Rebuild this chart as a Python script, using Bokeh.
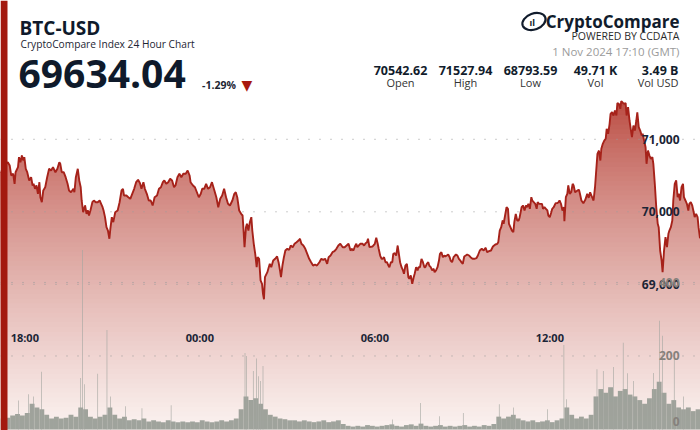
import numpy as np
from bokeh.plotting import figure
from bokeh.models import Range1d, Label, BoxAnnotation
from bokeh.core.properties import value
from bokeh.embed import file_html
from bokeh.resources import INLINE

# ---------------- data ----------------
# minutes after 31 Oct 2024 17:10 (GMT)
minutes = [
    0, 6, 11, 15, 19, 22, 26, 29, 31, 36, 38, 41, 44, 47, 49, 52, 55, 59, 63, 66, 68, 71, 74, 77, 80,
    82, 85, 88, 92, 96, 100, 104, 108, 113, 117, 121, 123, 126, 130, 134, 138, 141, 145, 150, 152,
    155, 159, 162, 165, 167, 170, 174, 177, 180, 182, 185, 189, 192, 196, 200, 204, 207, 210, 212,
    215, 218, 221, 224, 226, 229, 232, 236,
    241, 245, 249, 252, 254, 259, 263, 267, 271, 275, 279, 283, 287, 290, 294, 297, 301, 305, 309,
    313, 317, 322, 326, 330, 334, 337, 341, 345, 349, 353, 357, 360, 364, 368, 372, 376, 381, 385,
    389, 391, 396, 400, 404, 408, 412, 415, 419, 423, 427, 431, 435, 440, 444, 448, 452, 456, 460,
    464, 468, 472,
    477, 481, 484, 487, 491, 495, 498, 500, 502, 505, 507, 510, 513, 516, 518, 521, 524, 527, 529,
    532, 535, 538, 540, 542, 544, 549, 551, 554, 557, 561, 565, 569, 572, 575, 577, 580, 583, 586,
    590, 594, 597, 601, 605, 609, 613, 616, 619, 623, 627, 631, 635, 639, 643, 647, 651, 656, 660,
    664, 668, 672, 675, 679, 683, 687, 691, 695, 699, 704, 708, 712, 716, 720,
    723, 726, 729, 732, 734, 740, 745, 748, 751, 754, 756, 759, 765, 770, 773, 776, 778, 781, 784,
    786, 789, 792, 795, 798, 800, 803, 806, 808, 811, 814, 817, 819, 822, 825, 828, 830, 833, 836,
    839, 841, 844, 847, 850, 852, 855, 858, 860, 863, 866, 869, 872, 874, 877, 880, 882, 885, 888,
    891, 893, 896, 899, 902, 904, 907, 910, 913, 915, 918, 921, 924, 926, 929, 932, 935, 937, 940,
    943, 946, 948, 951, 954, 957,
    960, 964, 967, 971, 975, 979, 982, 986, 990, 994, 998, 1001, 1005, 1009, 1013, 1018, 1022, 1024,
    1027, 1030, 1033, 1035, 1038, 1041, 1044, 1046, 1049, 1052, 1055, 1057, 1060, 1063, 1066, 1068,
    1072, 1075, 1078, 1081, 1083, 1086, 1089, 1092, 1094, 1097, 1100, 1103, 1105, 1108, 1114, 1116,
    1119, 1122, 1125, 1127, 1130, 1133, 1135, 1138, 1142, 1145, 1148, 1150, 1153, 1156, 1159, 1160,
    1163, 1166, 1168, 1171, 1174, 1177, 1179, 1182,
    1187, 1190, 1192, 1195, 1199, 1203, 1207, 1210, 1213, 1217, 1220, 1223, 1225, 1228, 1231, 1234,
    1236, 1239, 1242, 1245, 1247, 1250, 1253, 1255, 1258, 1261, 1264, 1267, 1269, 1272, 1275, 1277,
    1280, 1283, 1286, 1288, 1291, 1294, 1297, 1299, 1302, 1305, 1308, 1310, 1313, 1316, 1319, 1321,
    1324, 1327, 1329, 1332, 1335, 1338, 1341, 1343, 1346, 1349, 1352, 1354, 1357, 1360, 1362, 1365,
    1368, 1371, 1374, 1376, 1379, 1382, 1384, 1387, 1390, 1393, 1395, 1398, 1401, 1404, 1406, 1409,
    1412, 1415, 1417, 1420, 1423, 1426, 1428, 1431, 1434, 1436, 1439,
]
price = [
    70543, 70610, 70660, 70684, 70638, 70501, 70524, 70386, 70546, 70615, 70753, 70684, 70776, 70707,
    70753, 70593, 70546, 70432, 70477, 70363, 70386, 70317, 70363, 70248, 70408, 70201, 70132, 70294,
    70339, 70477, 70593, 70570, 70615, 70546, 70593, 70684, 70662, 70546, 70546, 70477, 70386, 70294,
    70270, 70317, 70270, 70477, 70593, 70432, 70339, 70156, 69994, 70087, 69972, 70018, 69949, 70018,
    70132, 70156, 70132, 70132, 70156, 70110, 70063, 70018, 69926, 69788, 69742, 69628, 69766, 69926,
    69857, 69994,
    70018, 70132, 70294, 70317, 70225, 70225, 70201, 70179, 70248, 70317, 70408, 70441, 70394, 70317,
    70408, 70317, 70248, 70156, 70156, 70087, 70201, 70225, 70317, 70339, 70408, 70432, 70386, 70408,
    70455, 70432, 70339, 70363, 70477, 70524, 70477, 70524, 70524, 70570, 70501, 70408, 70363, 70339,
    70270, 70201, 70248, 70317, 70317, 70386, 70317, 70339, 70408, 70294, 70201, 70063, 70179, 70225,
    70317, 70201, 70110, 70087,
    70156, 70248, 70270, 70201, 70018, 69972, 69949, 69742, 69512, 69788, 69835, 69742, 69857, 69926,
    69742, 69559, 69421, 69236, 69374, 69352, 69053, 69007, 68869, 68794, 69098, 69167, 69214, 69283,
    69236, 69328, 69352, 69384, 69305, 69191, 69098, 69259, 69374, 69466, 69490, 69476, 69535, 69512,
    69559, 69581, 69604, 69628, 69559, 69535, 69490, 69421, 69352, 69305, 69259, 69273, 69259, 69305,
    69352, 69338, 69352, 69283, 69374, 69397, 69443, 69457, 69490, 69535, 69559, 69512, 69512, 69535,
    69559, 69466,
    69490, 69466, 69521, 69559, 69512, 69559, 69559, 69535, 69567, 69581, 69628, 69512, 69521, 69559,
    69641, 69559, 69490, 69397, 69352, 69352, 69374, 69305, 69305, 69259, 69236, 69305, 69305, 69421,
    69429, 69397, 69535, 69443, 69305, 69236, 69191, 69145, 69259, 69283, 69098, 69076, 69122, 69007,
    69098, 69145, 69236, 69191, 69236, 69236, 69352, 69305, 69236, 69236, 69283, 69305, 69259, 69236,
    69191, 69214, 69167, 69191, 69236, 69328, 69421, 69443, 69374, 69397, 69384, 69397, 69411, 69374,
    69328, 69305, 69374, 69397, 69411, 69397, 69352, 69328, 69305, 69283, 69384, 69397,
    69411, 69397, 69374, 69352, 69352, 69360, 69397, 69466, 69490, 69466, 69504, 69443, 69457, 69466,
    69521, 69549, 69559, 69581, 69742, 69788, 69880, 69835, 69949, 70063, 70041, 69835, 69788, 69742,
    69719, 69857, 69972, 69880, 69880, 69926, 70063, 70087, 70018, 70087, 70063, 70110, 70041, 70201,
    70156, 70132, 70110, 70041, 70132, 70110, 70110, 70041, 70063, 70041, 70018, 69949, 69926, 69994,
    70041, 70063, 70119, 70119, 70132, 70156, 70110, 70018, 70063, 69870, 70201, 70248, 70363, 70248,
    70270, 70386, 70363, 70270,
    70294, 70303, 70248, 70156, 70119, 70165, 70248, 70193, 70270, 70201, 70156, 70339, 70524, 70800,
    70845, 70707, 70869, 70938, 70983, 71007, 71145, 71076, 71214, 71351, 71373, 71328, 71397, 71328,
    71500, 71489, 71420, 71528, 71505, 71489, 71500, 71328, 71443, 71259, 71121, 71029, 71190, 71121,
    71259, 71373, 71167, 71121, 71052, 71076, 70983, 70891, 70662, 70845, 70776, 70731, 70753, 70662,
    70386, 70063, 69835, 69788, 69466, 69328, 69167, 69466, 69650, 69512, 69697, 69742, 69788, 69880,
    70156, 70386, 70432, 70201, 70248, 70156, 70339, 70386, 70201, 70156, 70110, 70018, 70110, 70132,
    70087, 69994, 69926, 69972, 69926, 69788, 69634,
]
# volume per 10-minute block (BTC)
vol_10min = [
    30, 32, 38, 42, 38, 45, 70, 60, 55, 40,
    30, 35, 30, 32, 40, 35, 60, 55, 35, 30,
    35, 40, 60, 40, 30, 35, 25, 28, 25, 30,
    22, 25, 22, 20, 25, 22, 20, 22, 20, 22,
    20, 25, 22, 20, 22, 25, 22, 25, 30, 55,
    90, 80, 85, 70, 55, 40, 35, 30, 28, 25,
    25, 22, 25, 22, 20, 22, 25, 20, 22, 25,
    15, 10, 8, 10, 8, 12, 10, 8, 10, 12,
    14, 10, 8, 12, 14, 10, 16, 10, 8, 10,
    12, 8, 10, 8, 10, 12, 8, 10, 8, 12,
    10, 15, 35, 30, 35, 40, 30, 25, 22, 25,
    20, 22, 25, 20, 25, 30, 60, 40, 30, 35,
    30, 40, 90, 110, 100, 115, 90, 105, 110, 95,
    90, 80, 70, 85, 110, 130, 100, 70, 80, 60,
    55, 60, 50, 55,
]
# single-minute volume spikes
spike_min = [37, 58, 68, 84, 165, 169, 173, 200, 219, 226, 257, 291, 351, 503, 506, 520, 527, 531,
             535, 540, 806, 864, 903, 952, 1026, 1055, 1125, 1159, 1164, 1227, 1240, 1261, 1281,
             1290, 1302, 1343, 1356, 1362, 1386, 1405]
spike_vol = [79, 96, 90, 157, 140, 488, 123, 152, 271, 90, 63, 58, 66, 208, 200, 159, 193, 145,
             132, 173, 27, 72, 36, 45, 69, 60, 55, 230, 82, 164, 159, 170, 236, 153, 132, 154, 296,
             255, 195, 90]

x_tick_labels = ["18:00", "00:00", "06:00", "12:00"]
price_ticks = [69000, 70000, 71000]
vol_ticks = [0, 200, 400]

title = "BTC-USD"
subtitle = "CryptoCompare Index 24 Hour Chart"
last_price = "69634.04"
change_pct = "-1.29%"
stamp = "1 Nov 2024 17:10 (GMT)"
stat_values = ["70542.62", "71527.94", "68793.59", "49.71 K", "3.49 B"]
stat_names = ["Open", "High", "Low", "Vol", "Vol USD"]

# ---------------- figure ----------------
W, H = 700, 430
PRICE_LO, PRICE_HI = 66984, 72914
VOL_LO, VOL_HI = -2.7, 1167
START_MIN = 17 * 60 + 10


def hhmm_to_min(s):
    h, m = map(int, s.split(":"))
    return ((h * 60 + m) - START_MIN) % 1440


def px_to_min(px):
    return px * 1440.0 / W


def px_to_price(py):
    return PRICE_HI - py * (PRICE_HI - PRICE_LO) / H


NAVY = "#0f1a2b"
FONT = "Open Sans"

p = figure(width=W, height=H, x_range=Range1d(0, 1440), y_range=Range1d(PRICE_LO, PRICE_HI),
           output_backend="svg", toolbar_location=None, x_axis_location=None,
           y_axis_location=None, min_border=0, outline_line_color=None,
           background_fill_color="white", border_fill_color="white")
p.min_border_left = p.min_border_right = p.min_border_top = p.min_border_bottom = 0
p.extra_y_ranges = {"vol": Range1d(VOL_LO, VOL_HI)}
p.grid.visible = False

t = np.array(minutes, dtype=float)
pr = np.array(price, dtype=float)

# gradient area (stacked bands)
N = 70
top_level = pr.max()
levels = np.linspace(PRICE_LO, top_level, N + 1)
top_rgb = np.array([184, 70, 60], dtype=float)
bot_rgb = np.array([251, 243, 241], dtype=float)
for k in range(N - 1, -1, -1):
    mid = 0.5 * (levels[k] + levels[k + 1])
    f = ((top_level - mid) / (top_level - PRICE_LO)) ** 0.75
    c = top_rgb + f * (bot_rgb - top_rgb)
    col = "#%02x%02x%02x" % tuple(int(round(v)) for v in c)
    p.varea(x=t, y1=PRICE_LO, y2=np.minimum(pr, levels[k + 1]), fill_color=col, fill_alpha=1.0)

# dotted grid lines
p.segment(x0=0, x1=1440, y0=price_ticks, y1=price_ticks, line_color="#9a9a9a",
          line_width=1, line_dash="1 10")
p.segment(x0=0, x1=1440, y0=vol_ticks[1:], y1=vol_ticks[1:], line_color="#9a9a9a",
          line_width=1, line_dash="1 10", y_range_name="vol")

# volume
vol_x = np.arange(len(vol_10min)) * 10 + 5
p.vbar(x=vol_x, width=10, top=vol_10min, bottom=0, y_range_name="vol",
       fill_color="#959a92", fill_alpha=0.9, line_color=None)
p.vbar(x=spike_min, width=1.3, top=spike_vol, bottom=0, y_range_name="vol",
       fill_color="#a3a6a0", fill_alpha=0.95, line_color=None)

# price line
p.line(t, pr, line_color="#a6221a", line_width=1.9)

# axis labels inside the plot
lab_x = px_to_min(679)
p.text(x=[lab_x] * len(price_ticks), y=price_ticks, text=[f"{v:,}" for v in price_ticks],
       text_align="right", text_baseline="middle", text_font=value(FONT),
       text_font_size="12px", text_font_style="bold", text_color="#1b2536")
p.text(x=[lab_x] * 2, y=vol_ticks[1:], text=[str(v) for v in vol_ticks[1:]],
       text_align="right", text_baseline="middle", text_font=value(FONT),
       text_font_size="12px", text_font_style="bold", text_color="#86817c",
       y_range_name="vol")
p.text(x=[lab_x], y=[VOL_LO], text=[str(vol_ticks[0])], y_offset=-5,
       text_align="right", text_baseline="bottom", text_font=value(FONT),
       text_font_size="12px", text_font_style="bold", text_color="#86817c",
       y_range_name="vol")
for lbl in x_tick_labels:
    p.add_layout(Label(x=hhmm_to_min(lbl), y=H - 337, y_units="screen", text=lbl,
                       text_align="center", text_baseline="middle", text_font=FONT,
                       text_font_size="11px", text_font_style="bold", text_color="#1b2536"))

# left red bar
p.add_layout(BoxAnnotation(left=0, right=7, left_units="screen", right_units="screen",
                           fill_color="#a3190f", fill_alpha=1.0, line_color=None, level="overlay"))


def lab(text, x, y_mid, size, bold=False, color=NAVY, align="left", font=FONT):
    p.add_layout(Label(x=x, y=H - y_mid, x_units="screen", y_units="screen", text=text,
                       text_align=align, text_baseline="middle", text_font=font,
                       text_font_size=size, text_font_style="bold" if bold else "normal",
                       text_color=color))


lab(title, 19, 27, "19px", True)
lab(subtitle, 20, 43, "10.2px", False, "#1c2533")
lab(last_price, 18, 73.5, "39px", True)
lab(change_pct, 201.5, 84, "10.5px", True, "#1c2533")
lab("\u25bc", 241, 84.5, "14px", False, "#a8190e", font="DejaVu Sans")

lab("CryptoCompare", 679, 20.5, "17px", True, "#111c2c", "right")
lab("POWERED BY CCDATA", 679, 35.5, "10.5px", False, "#2b2b2b", "right")
lab(stamp, 679, 51, "11.5px", False, "#9b9b9b", "right")
stat_cx = [400, 465, 530, 595, 678]
for i, (v, n) in enumerate(zip(stat_values, stat_names)):
    al = "right" if i == len(stat_values) - 1 else "center"
    lab(v, stat_cx[i], 69.5, "12.5px", True, "#111c2c", al)
    lab(n, stat_cx[i], 82, "11px", False, "#333333", al)

# logo ring
p.ellipse(x=[px_to_min(533.5)], y=[px_to_price(21)], width=24, height=16, width_units="screen",
          height_units="screen", angle=0.35, fill_color=None, line_color="#111c2c",
          line_width=2.2)
lab("\u0131l", 529, 22, "9px", True, "#111c2c")

open("out.html", "w").write(file_html(p, INLINE))
